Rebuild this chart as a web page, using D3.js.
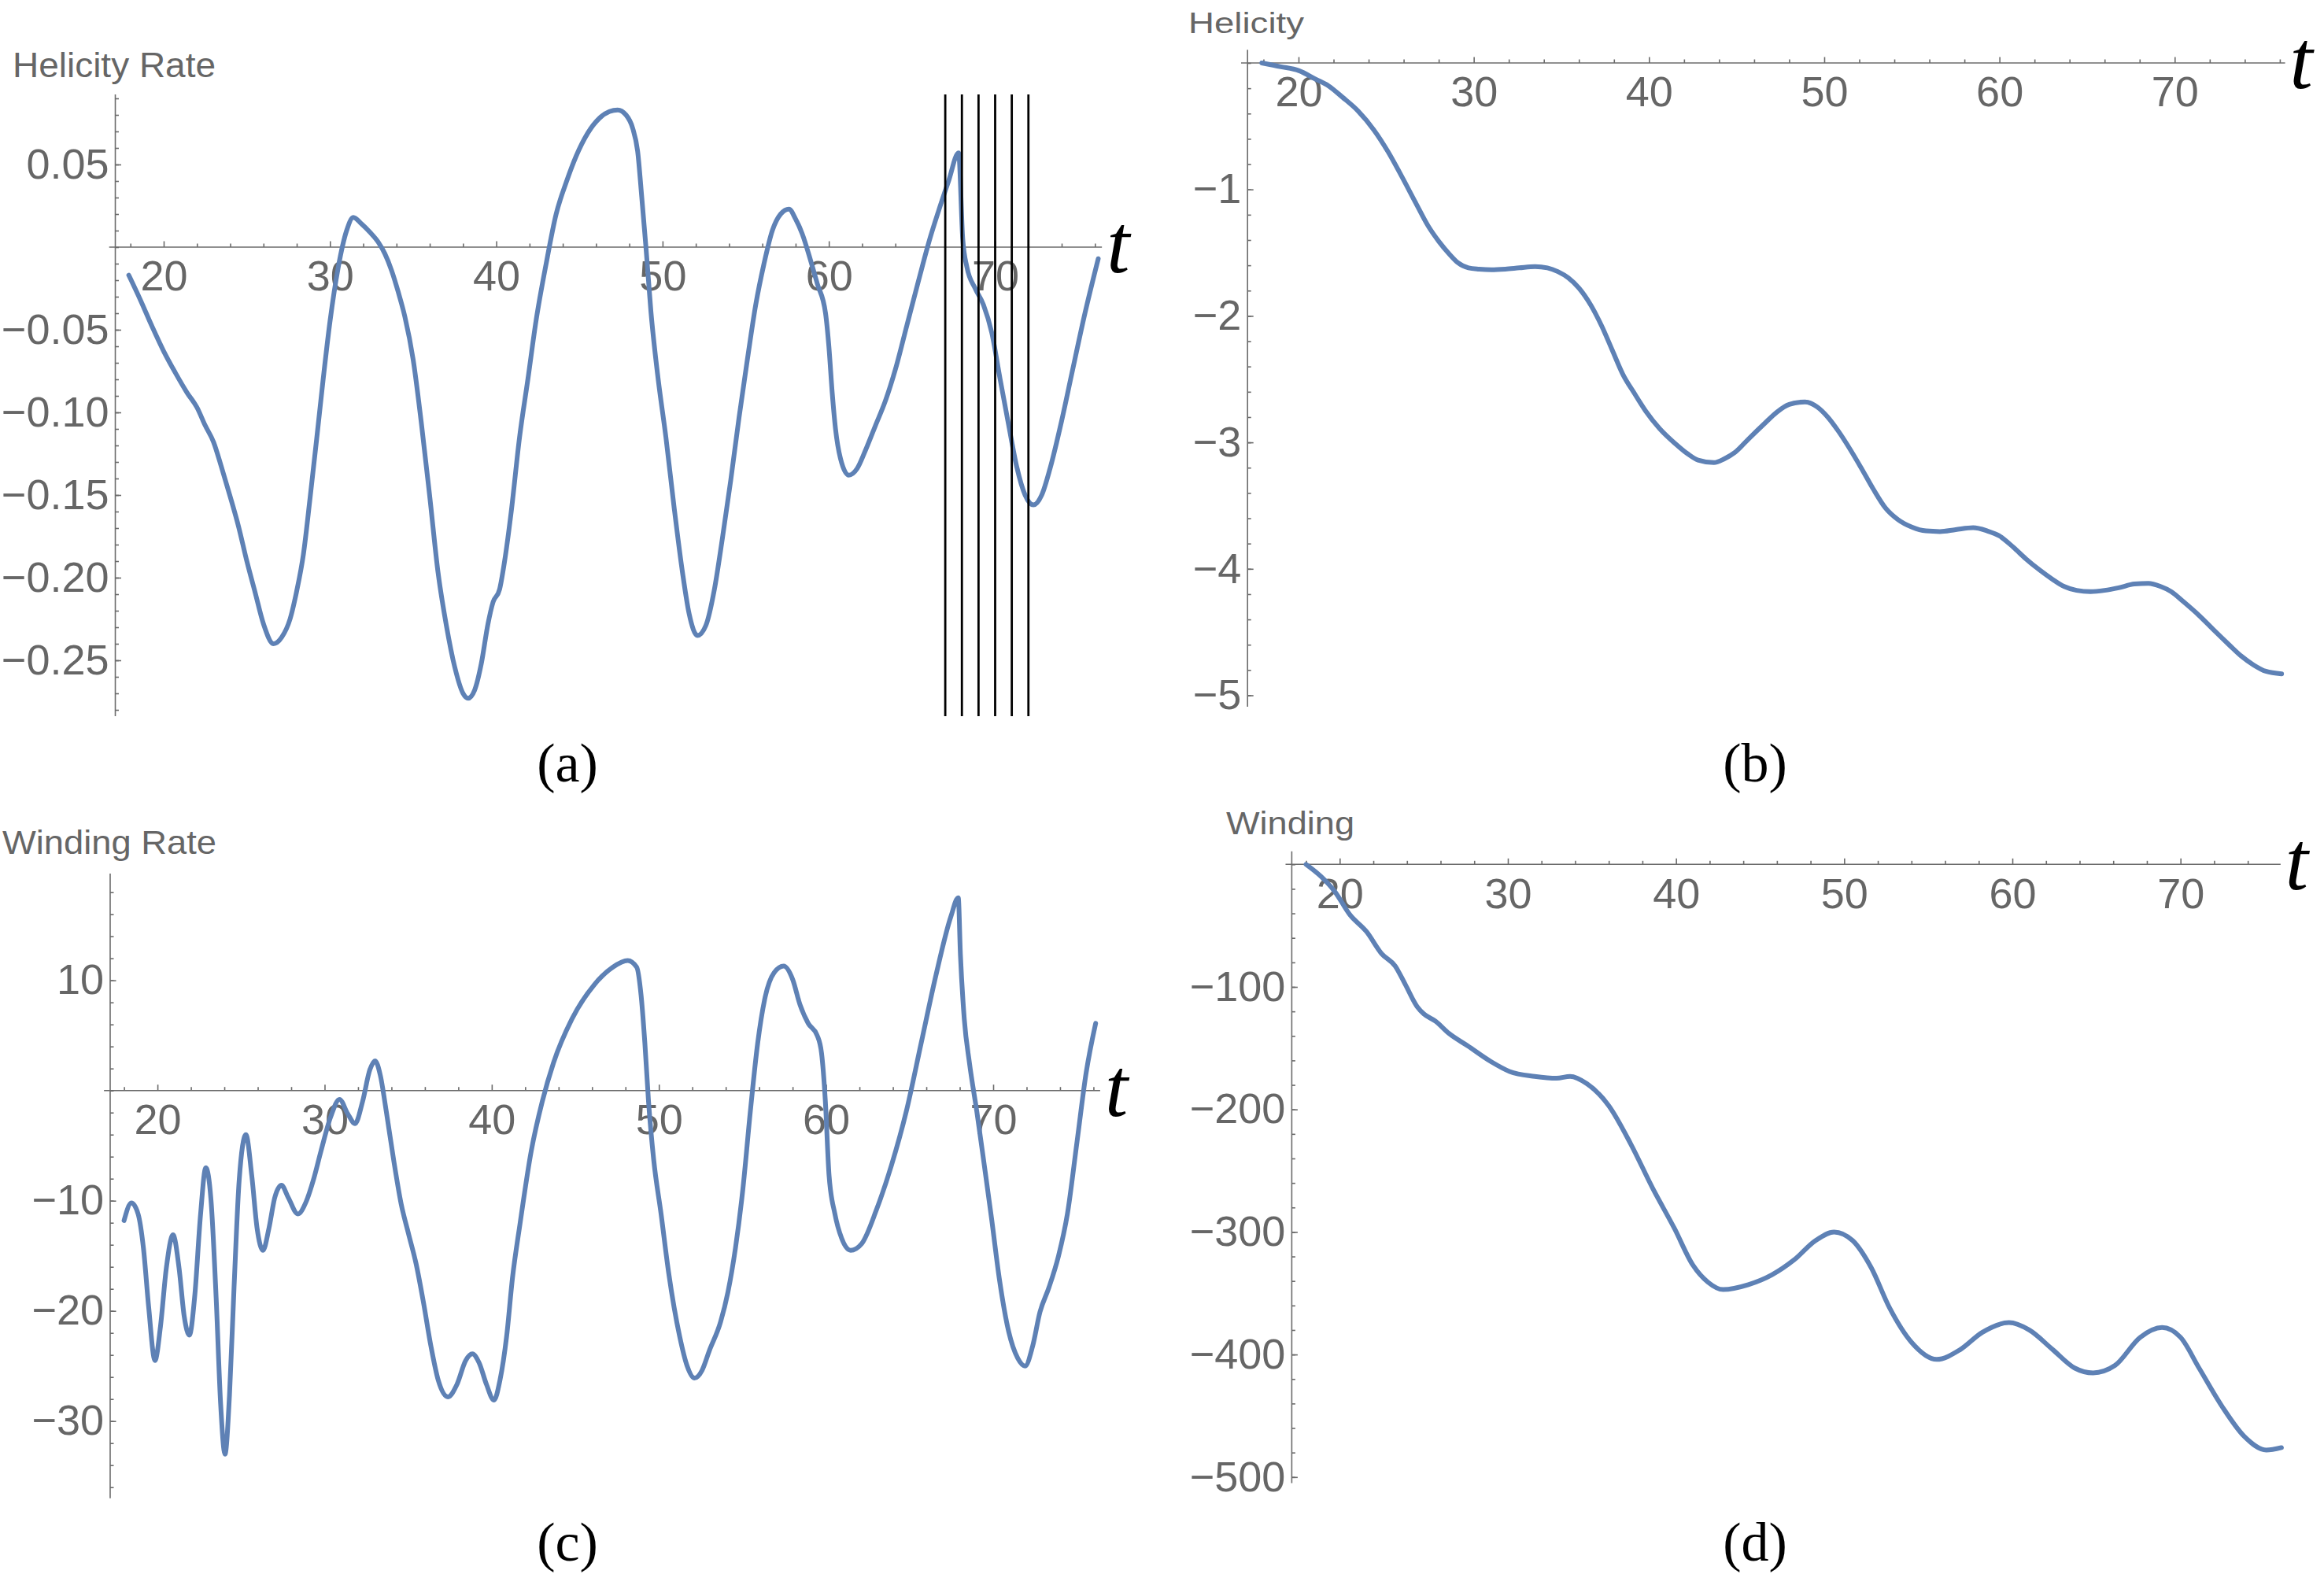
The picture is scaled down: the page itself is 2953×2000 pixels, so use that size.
<!DOCTYPE html>
<html>
<head>
<meta charset="utf-8">
<script src="https://cdn.jsdelivr.net/npm/d3@7"></script>
<style>
  body { margin: 0; background: #fff; }
  svg { display: block; }
</style>
</head>
<body>
<div id="chart"></div>
<script>
// HELICITY RATE (a)
const helRateT = [17.9, 18.6, 19.3, 20.0, 20.7, 21.4, 22.0, 22.5, 23.0, 23.5, 24.0, 24.5, 25.0, 25.5, 26.0, 26.6, 27.1, 27.6, 28.0, 28.4, 28.8, 29.2, 29.6, 30.0, 30.5, 31.0, 31.4, 31.9, 32.4, 32.9, 33.3, 33.7, 34.1, 34.5, 35.0, 35.5, 36.0, 36.5, 37.0, 37.5, 38.0, 38.3, 38.7, 39.1, 39.5, 39.8, 40.2, 40.5, 40.9, 41.4, 41.9, 42.4, 43.0, 43.6, 44.2, 44.8, 45.5, 46.2, 46.8, 47.3, 47.8, 48.2, 48.5, 48.75, 49.0, 49.3, 49.7, 50.2, 50.7, 51.2, 51.6, 52.1, 52.6, 53.1, 53.6, 54.1, 54.6, 55.1, 55.6, 56.1, 56.6, 57.1, 57.6, 58.0, 58.4, 58.9, 59.3, 59.8, 60.0, 60.2, 60.4, 60.7, 61.2, 61.7, 62.2, 62.8, 63.4, 64.0, 64.7, 65.4, 66.1, 66.6, 67.2, 67.8, 68.05, 68.3, 68.8, 69.3, 69.8, 70.3, 70.8, 71.3, 71.8, 72.3, 72.8, 73.3, 74.0, 74.6, 75.4, 76.2];
const helRateV = [-0.017, -0.032, -0.048, -0.063, -0.076, -0.088, -0.097, -0.108, -0.118, -0.134, -0.151, -0.169, -0.190, -0.209, -0.228, -0.240, -0.236, -0.225, -0.208, -0.186, -0.152, -0.116, -0.079, -0.045, -0.012, 0.010, 0.018, 0.014, 0.009, 0.003, -0.004, -0.014, -0.027, -0.042, -0.068, -0.107, -0.151, -0.197, -0.229, -0.254, -0.270, -0.273, -0.268, -0.252, -0.228, -0.215, -0.207, -0.190, -0.160, -0.115, -0.080, -0.044, -0.010, 0.020, 0.039, 0.055, 0.069, 0.078, 0.082, 0.083, 0.080, 0.072, 0.058, 0.030, 0.000, -0.039, -0.077, -0.115, -0.158, -0.197, -0.222, -0.235, -0.229, -0.208, -0.176, -0.141, -0.103, -0.068, -0.035, -0.010, 0.010, 0.020, 0.023, 0.017, 0.008, -0.008, -0.022, -0.040, -0.060, -0.088, -0.110, -0.128, -0.138, -0.134, -0.123, -0.108, -0.093, -0.074, -0.047, -0.020, 0.006, 0.022, 0.040, 0.057, 0.005, -0.012, -0.025, -0.035, -0.052, -0.080, -0.107, -0.133, -0.150, -0.156, -0.150, -0.134, -0.105, -0.077, -0.040, -0.007];

// HELICITY (b)
const helT = [17.9, 19.0, 20.0, 21.0, 21.7, 22.5, 23.4, 24.3, 25.1, 25.9, 26.7, 27.4, 28.0, 28.6, 29.1, 29.7, 30.3, 31.0, 31.8, 32.6, 33.5, 34.2, 34.8, 35.4, 36.0, 36.7, 37.3, 37.9, 38.5, 39.2, 39.8, 40.6, 41.5, 42.2, 42.8, 43.7, 44.3, 44.9, 45.7, 46.6, 47.3, 48.0, 48.9, 49.6, 50.2, 50.8, 51.5, 52.1, 52.8, 53.5, 54.2, 55.0, 55.8, 56.6, 57.5, 58.5, 59.3, 60.0, 60.8, 61.5, 62.3, 63.0, 63.7, 64.4, 65.2, 66.0, 66.8, 67.7, 68.5, 69.2, 69.8, 70.5, 71.4, 72.2, 73.1, 73.8, 74.5, 75.2, 76.1];
const helV = [0.0, -0.03, -0.06, -0.13, -0.18, -0.27, -0.38, -0.53, -0.70, -0.90, -1.11, -1.29, -1.41, -1.51, -1.58, -1.62, -1.63, -1.635, -1.63, -1.62, -1.61, -1.62, -1.65, -1.70, -1.78, -1.92, -2.08, -2.27, -2.46, -2.62, -2.75, -2.89, -3.01, -3.09, -3.14, -3.16, -3.13, -3.08, -2.97, -2.85, -2.76, -2.70, -2.68, -2.72, -2.80, -2.91, -3.06, -3.20, -3.37, -3.52, -3.61, -3.67, -3.70, -3.705, -3.69, -3.675, -3.70, -3.74, -3.83, -3.92, -4.01, -4.08, -4.14, -4.17, -4.18, -4.17, -4.15, -4.12, -4.115, -4.14, -4.18, -4.26, -4.37, -4.48, -4.60, -4.69, -4.76, -4.81, -4.83];

// WINDING RATE (c)
const windRateT = [18.0, 18.44, 18.84, 19.16, 19.47, 19.85, 20.18, 20.53, 20.93, 21.29, 21.6, 21.91, 22.22, 22.58, 22.89, 23.2, 23.51, 23.78, 24.04, 24.31, 24.58, 24.89, 25.29, 25.64, 25.96, 26.31, 26.67, 27.02, 27.42, 27.82, 28.4, 28.89, 29.33, 29.78, 30.36, 30.89, 31.38, 31.82, 32.27, 32.71, 33.02, 33.33, 33.69, 34.13, 34.58, 35.02, 35.47, 35.91, 36.36, 36.8, 37.38, 37.91, 38.44, 38.84, 39.24, 39.69, 40.13, 40.49, 40.89, 41.24, 41.69, 42.36, 43.02, 43.69, 44.8, 46.13, 47.24, 48.13, 48.67, 48.93, 49.16, 49.38, 49.69, 50.13, 50.58, 51.24, 51.69, 52.13, 52.58, 53.02, 53.69, 54.13, 54.58, 55.02, 55.47, 55.91, 56.36, 56.89, 57.47, 58.0, 58.44, 58.93, 59.47, 59.73, 59.96, 60.18, 60.53, 60.93, 61.47, 62.13, 63.02, 63.91, 64.8, 65.69, 66.58, 67.47, 67.91, 68.04, 68.27, 68.58, 69.02, 69.47, 69.91, 70.36, 70.93, 71.47, 71.91, 72.36, 72.8, 73.33, 73.91, 74.44, 75.02, 75.56, 76.13];
const windRateV = [-11.8, -10.2, -11.2, -14.3, -19.6, -24.5, -21.4, -16.1, -13.1, -16.1, -20.5, -22.2, -18.8, -11.2, -7.0, -9.9, -18.8, -28.5, -33.0, -27.6, -17.9, -8.1, -4.0, -7.7, -12.5, -14.5, -12.5, -9.7, -8.6, -9.7, -11.2, -10.1, -8.1, -5.5, -2.4, -0.8, -2.1, -3.0, -1.0, 1.9, 2.7, 1.4, -1.9, -6.3, -10.3, -13.0, -15.7, -19.2, -23.2, -26.3, -27.8, -26.7, -24.5, -23.9, -24.7, -26.7, -28.1, -26.3, -22.3, -17.0, -12.1, -5.5, -1.0, 2.5, 6.5, 9.6, 11.2, 11.8, 11.2, 8.7, 4.3, -1.0, -6.3, -11.2, -16.5, -22.3, -25.0, -26.1, -25.4, -23.6, -21.0, -18.3, -14.3, -9.0, -1.9, 4.3, 8.5, 10.7, 11.3, 10.1, 7.8, 6.1, 5.0, 3.4, -1.0, -7.7, -11.2, -13.4, -14.5, -13.9, -10.8, -6.8, -1.9, 4.3, 10.5, 15.8, 17.5, 12.3, 6.5, 2.5, -1.9, -6.8, -11.7, -17.0, -21.9, -24.3, -25.0, -23.2, -20.1, -17.9, -15.0, -11.2, -4.6, 1.6, 6.1];

// WINDING (d)
const windT = [18.0, 18.9, 19.7, 20.6, 21.6, 22.5, 23.3, 23.9, 24.6, 25.0, 25.7, 26.5, 27.6, 29.0, 30.1, 31.6, 32.9, 33.7, 34.7, 36.0, 37.3, 38.6, 39.9, 41.0, 41.9, 42.8, 44.3, 45.7, 47.0, 48.3, 49.4, 50.5, 51.6, 52.7, 54.0, 55.5, 56.9, 58.2, 59.8, 61.0, 62.4, 63.7, 64.8, 66.1, 67.6, 68.9, 70.0, 71.1, 72.5, 73.8, 75.1, 76.0];
const windV = [0, -10, -22, -41, -55, -73, -83, -98, -116, -122, -128, -138, -148, -161, -169, -173, -174.5, -173, -179, -197, -228, -264, -297, -327, -341, -347, -343, -335, -323, -307, -300, -307, -329, -362, -390, -404, -396, -382, -374, -380, -396, -411, -415, -409, -386, -378, -386, -411, -443, -467, -478, -476];

// MARKER LINES IN (a)
const markerTimes = [67, 68, 69, 70, 71, 72];

// TICKS
const xTickVals = [20, 30, 40, 50, 60, 70];
const helRateYTicks = [0.05, -0.05, -0.10, -0.15, -0.20, -0.25];
const helYTicks = [-1, -2, -3, -4, -5];
const windRateYTicks = [10, -10, -20, -30];
const windYTicks = [-100, -200, -300, -400, -500];

// LABELS
const titles = ["Helicity Rate", "Helicity", "Winding Rate", "Winding"];
const captions = ["(a)", "(b)", "(c)", "(d)"];

// STYLE
const lineColor = "#5e81b5";
const axisColor = "#6b6b6b";
const labelColor = "#666666";
const sansFont = "'Liberation Sans', Arial, sans-serif";
const serifFont = "'Liberation Serif', 'Times New Roman', serif";

// ADD SVG
const svg = d3.select("#chart")
  .append("svg")
    .attr("width", 2953)
    .attr("height", 2000);

// PANEL LAYOUT (pixel frames only)
const panels = [
  { t: helRateT, v: helRateV, yTicks: helRateYTicks, fmt: d3.format(".2f"),
    xRange: [208, 1264.5], yDomain: [0, -0.25], yRange: [314, 839],
    tAxis: 17.09, tEnd: 76.42, vTop: 0.0924, vBottom: -0.2838,
    yMinorStep: 0.01, title: titles[0], titleX: 16, titleY: 98, titleSize: 44.5, titleLen: 258,
    caption: captions[0], capX: 721, capY: 993, markers: markerTimes },
  { t: helT, v: helV, yTicks: helYTicks, fmt: d3.format("d"),
    xRange: [1650, 2763.3], yDomain: [0, -5], yRange: [80, 883.5],
    tAxis: 17.09, tEnd: 76.3, vTop: 0.104, vBottom: -5.09,
    yMinorStep: 0.2, title: titles[1], titleX: 1510, titleY: 42, titleSize: 37, titleLen: 147,
    caption: captions[1], capX: 2230, capY: 993, markers: [] },
  { t: windRateT, v: windRateV, yTicks: windRateYTicks, fmt: d3.format("d"),
    xRange: [200.1, 1262], yDomain: [0, -30], yRange: [1385.7, 1805.7],
    tAxis: 17.17, tEnd: 76.4, vTop: 19.7, vBottom: -37,
    yMinorStep: 2, title: titles[2], titleX: 3, titleY: 1085, titleSize: 42, titleLen: 272,
    caption: captions[2], capX: 721, capY: 1983, markers: [] },
  { t: windT, v: windV, yTicks: windYTicks, fmt: d3.format("d"),
    xRange: [1702.3, 2770.7], yDomain: [0, -500], yRange: [1098.3, 1876.8],
    tAxis: 17.15, tEnd: 75.95, vTop: 10.7, vBottom: -505,
    yMinorStep: 20, title: titles[3], titleX: 1558, titleY: 1060, titleSize: 41, titleLen: 163,
    caption: captions[3], capX: 2230, capY: 1983, markers: [] }
];

// STYLE AN AXIS GROUP
function styleAxis(sel) {
  sel.select(".domain").remove();
  sel.attr("font-family", sansFont).attr("font-size", 54);
  sel.selectAll(".tick line").attr("stroke", axisColor).attr("stroke-width", 1.6);
  sel.selectAll(".tick text").attr("fill", labelColor);
}

function drawPanel(p) {
  const x = d3.scaleLinear().domain([20, 70]).range(p.xRange);
  const y = d3.scaleLinear().domain(p.yDomain).range(p.yRange);
  const g = svg.append("g");
  const ox = x(p.tAxis), oy = y(0);

  // MINOR / MAJOR TICK VALUES
  const xMinor = d3.range(18, p.tEnd, 2).filter(d => d % 10 !== 0);
  const ySteps = Math.round((p.vTop - p.vBottom) / p.yMinorStep) + 2;
  const yMinor = d3.range(ySteps).map(i => Math.ceil(p.vBottom / p.yMinorStep) * p.yMinorStep + i * p.yMinorStep)
    .filter(d => d <= p.vTop && d >= p.vBottom);

  // X AXIS (ticks up, labels below)
  g.append("g").attr("transform", "translate(0," + oy + ")")
    .call(d3.axisBottom(x).tickValues(xMinor).tickSize(-4.5).tickFormat(""))
    .call(styleAxis);
  g.append("g").attr("transform", "translate(0," + oy + ")")
    .call(d3.axisBottom(x).tickValues(xTickVals).tickSize(-7.5).tickPadding(17).tickFormat(d3.format("d")))
    .call(styleAxis);

  // Y AXIS (ticks right, labels left)
  g.append("g").attr("transform", "translate(" + ox + ",0)")
    .call(d3.axisLeft(y).tickValues(yMinor).tickSize(-4.5).tickFormat(""))
    .call(styleAxis);
  g.append("g").attr("transform", "translate(" + ox + ",0)")
    .call(d3.axisLeft(y).tickValues(p.yTicks).tickSize(-7.5).tickPadding(8).tickFormat(p.fmt))
    .call(styleAxis);

  // AXIS LINES
  g.append("line")
    .attr("x1", x(p.tAxis - 0.37)).attr("x2", x(p.tEnd))
    .attr("y1", oy).attr("y2", oy)
    .attr("stroke", axisColor).attr("stroke-width", 1.6);
  g.append("line")
    .attr("x1", ox).attr("x2", ox)
    .attr("y1", y(p.vTop)).attr("y2", y(p.vBottom))
    .attr("stroke", axisColor).attr("stroke-width", 1.6);

  // t LABEL
  g.append("text")
    .attr("x", x(p.tEnd) + 6)
    .attr("y", oy + 32)
    .attr("font-family", serifFont)
    .attr("font-style", "italic")
    .attr("font-size", 105)
    .attr("fill", "#000")
    .text("t");

  // TITLE
  g.append("text")
    .attr("x", p.titleX).attr("y", p.titleY)
    .attr("font-family", sansFont)
    .attr("font-size", p.titleSize)
    .attr("fill", labelColor)
    .attr("textLength", p.titleLen)
    .attr("lengthAdjust", "spacingAndGlyphs")
    .text(p.title);

  // CURVE
  const line = d3.line()
    .x(d => x(d[0]))
    .y(d => y(d[1]))
    .curve(d3.curveMonotoneX);
  g.append("path")
    .datum(d3.zip(p.t, p.v))
    .attr("fill", "none")
    .attr("stroke", lineColor)
    .attr("stroke-width", 6)
    .attr("stroke-linejoin", "round")
    .attr("stroke-linecap", "round")
    .attr("d", line);

  // MARKER LINES
  g.selectAll(".marker")
    .data(p.markers)
    .enter()
    .append("line")
      .attr("class", "marker")
      .attr("x1", d => x(d)).attr("x2", d => x(d))
      .attr("y1", y(p.vTop)).attr("y2", y(p.vBottom))
      .attr("stroke", "#000")
      .attr("stroke-width", 2.8);

  // CAPTION
  svg.append("text")
    .attr("x", p.capX).attr("y", p.capY)
    .attr("text-anchor", "middle")
    .attr("font-family", serifFont)
    .attr("font-size", 70)
    .attr("fill", "#000")
    .text(p.caption);
}

panels.forEach(drawPanel);
</script>
</body>
</html>
